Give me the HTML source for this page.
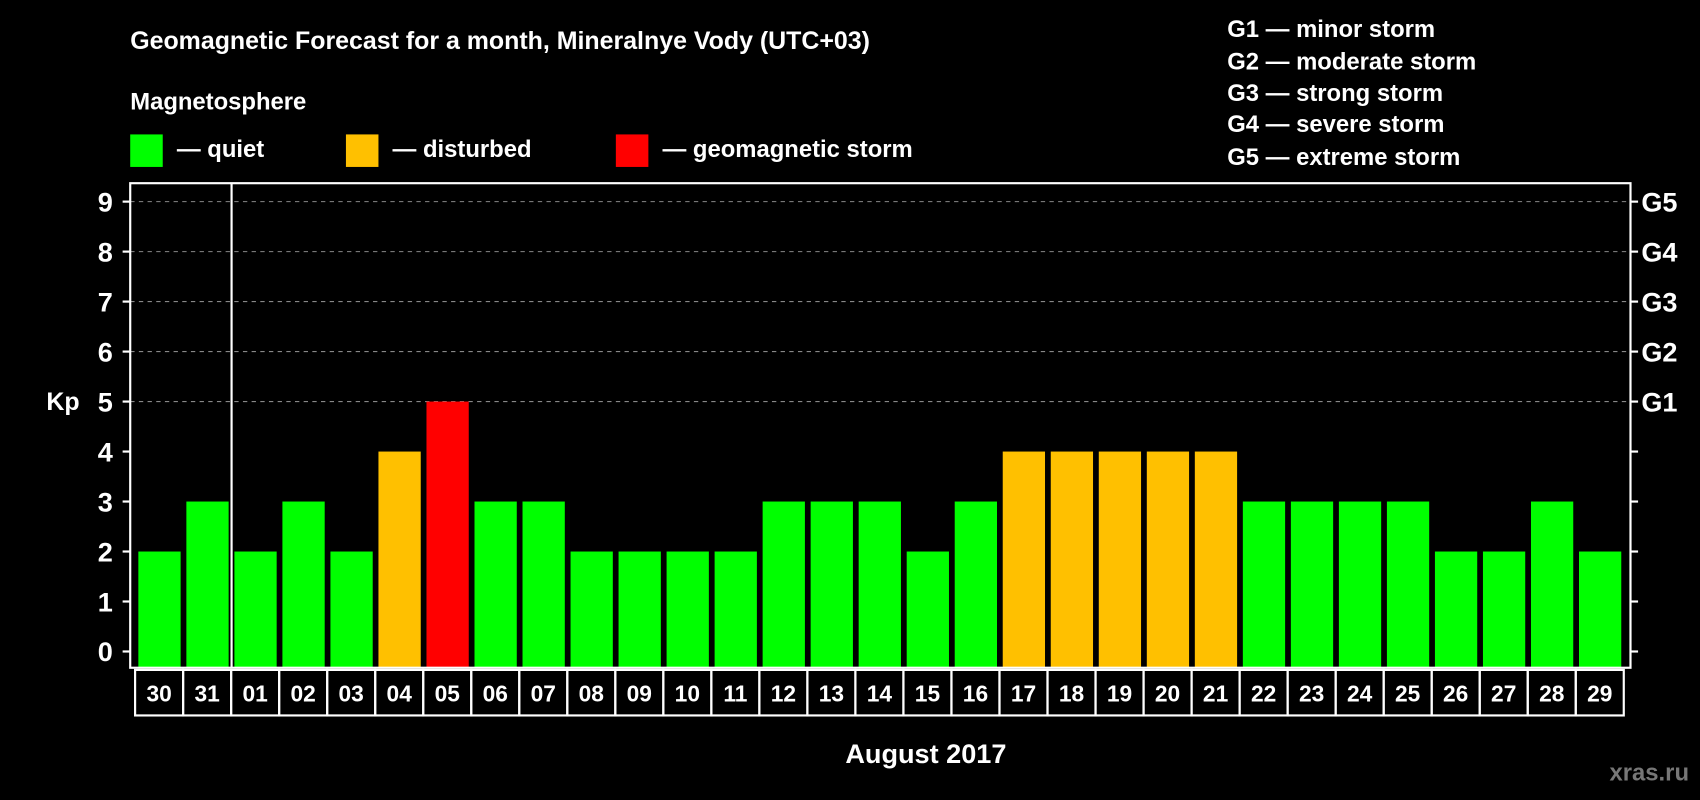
<!DOCTYPE html>
<html><head><meta charset="utf-8"><style>html,body{margin:0;padding:0;background:#000;}svg{display:block;}text{font-family:"Liberation Sans",Arial,sans-serif;font-weight:bold;fill:#fff;}</style></head>
<body>
<svg id="chart" width="1700" height="800" viewBox="0 0 1568 738" xmlns="http://www.w3.org/2000/svg">
<rect width="1568" height="738" fill="#000"/>
<text x="120" y="45" font-size="23">Geomagnetic Forecast for a month, Mineralnye Vody (UTC+03)</text>
<text x="120" y="101" font-size="22">Magnetosphere</text>
<g>
<rect x="120" y="124" width="30" height="30" fill="#00ff00"/>
<text x="163" y="145" font-size="22">— quiet</text>
<rect x="319" y="124" width="30" height="30" fill="#ffc000"/>
<text x="362" y="145" font-size="22">— disturbed</text>
<rect x="568" y="124" width="30" height="30" fill="#ff0000"/>
<text x="611" y="145" font-size="22">— geomagnetic storm</text>
</g>
<g font-size="22">
<text x="1132" y="34">G1 — minor storm</text>
<text x="1132" y="64">G2 — moderate storm</text>
<text x="1132" y="93">G3 — strong storm</text>
<text x="1132" y="122">G4 — severe storm</text>
<text x="1132" y="152">G5 — extreme storm</text>
</g>
<g id="grid"></g><g id="bars"></g><g id="axes"></g>
<text x="58" y="378" font-size="23" text-anchor="middle">Kp</text>
<text x="854" y="704" font-size="25" text-anchor="middle">August 2017</text>
<text x="1558" y="720" font-size="22" text-anchor="end" fill="#777" style="fill:#777">xras.ru</text>
</svg>
<script>
const days = ["30","31","01","02","03","04","05","06","07","08","09","10","11","12","13","14","15","16","17","18","19","20","21","22","23","24","25","26","27","28","29"];
const kpValues = [2,3,2,3,2,4,5,3,3,2,2,2,2,3,3,3,2,3,4,4,4,4,4,3,3,3,3,2,2,3,2];
const yTicks = [0,1,2,3,4,5,6,7,8,9];
const gLabels = ["G1","G2","G3","G4","G5"];
const gLevels = [5,6,7,8,9];
const NS="http://www.w3.org/2000/svg";
const L=120,R=1504,T=169,B=616,x0=124.5,step=44.3;
const yS=v=>601-v*(415/9);
const xS=i=>x0+i*step;
function mk(t,a,p){const e=document.createElementNS(NS,t);for(const k in a)e.setAttribute(k,a[k]);p.appendChild(e);return e;}
const grid=document.getElementById('grid'),bars=document.getElementById('bars'),axes=document.getElementById('axes');
gLevels.forEach(v=>{const l=mk('line',{x1:L,x2:R,y1:yS(v),y2:yS(v),stroke:'#888','stroke-dasharray':'4,4','stroke-width':1},grid);

});
kpValues.forEach((v,i)=>{const c=v>=5?'#ff0000':(v>=4?'#ffc000':'#00ff00');
const r=mk('rect',{x:xS(i)+3,y:yS(v),width:39,height:B-yS(v),fill:c},bars);


const cell=mk('rect',{x:xS(i),y:618,width:step,height:42,fill:'none',stroke:'#fff','stroke-width':2},axes);


const t=mk('text',{x:xS(i)+step/2,y:647,'font-size':21,'text-anchor':'middle'},axes);t.textContent=days[i];

});
const fr=mk('rect',{x:L,y:T,width:R-L,height:B-T,fill:'none',stroke:'#fff','stroke-width':2},axes);


const sep=mk('line',{x1:213.5,x2:213.5,y1:T,y2:B,stroke:'#fff','stroke-width':2},axes);


yTicks.forEach(v=>{mk('line',{x1:L-7,x2:L,y1:yS(v),y2:yS(v),stroke:'#fff','stroke-width':2},axes);
mk('line',{x1:R,x2:R+7,y1:yS(v),y2:yS(v),stroke:'#fff','stroke-width':2},axes);
const t=mk('text',{x:104,y:yS(v)+9,'font-size':25,'text-anchor':'end'},axes);t.textContent=v;

});
gLabels.forEach((g,i)=>{const t=mk('text',{x:1514,y:yS(gLevels[i])+9,'font-size':25},axes);t.textContent=g;

});
</script>
</body></html>
